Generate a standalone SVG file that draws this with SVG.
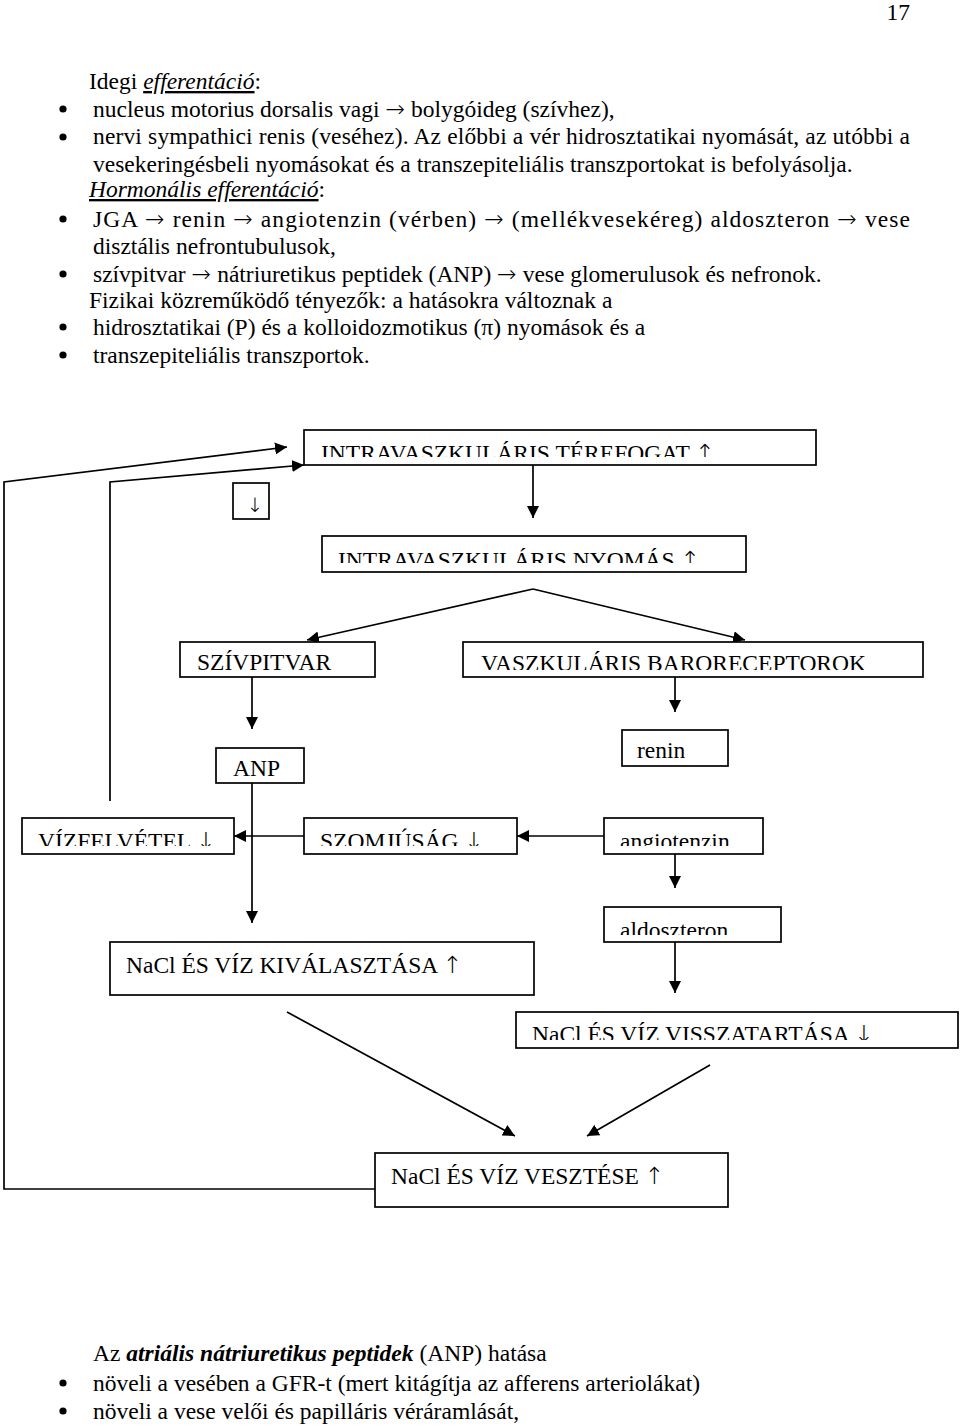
<svg xmlns="http://www.w3.org/2000/svg" width="960" height="1427" viewBox="0 0 960 1427">
<defs>
<style>
text { font-family: "Liberation Serif", "Times New Roman", serif; font-size: 23.5px; fill: #000; }
.ar { font-family: "DejaVu Sans", sans-serif; font-weight: 200; }
.box { fill: #fff; stroke: #000; stroke-width: 1.7; }
.ln { fill: none; stroke: #000; stroke-width: 1.7; }
.arr { marker-end: url(#ah); }
.it { font-style: italic; }
.u { text-decoration: underline; }
.bi { font-style: italic; font-weight: bold; }
.dot { fill: #000; }
</style>
<marker id="ah" markerUnits="userSpaceOnUse" markerWidth="13" markerHeight="12" refX="12" refY="6" orient="auto">
<path d="M0,0 L12,6 L0,12 z" fill="#000"/>
</marker>
<clipPath id="cT"><rect x="304" y="430" width="512" height="27"/></clipPath>
<clipPath id="cN"><rect x="322" y="536" width="424" height="27"/></clipPath>
<clipPath id="cSz"><rect x="180" y="642" width="195" height="28"/></clipPath>
<clipPath id="cB"><rect x="463" y="642" width="460" height="28"/></clipPath>
<clipPath id="cV"><rect x="22" y="818" width="212" height="28"/></clipPath>
<clipPath id="cSo"><rect x="304" y="818" width="213" height="28"/></clipPath>
<clipPath id="cAn"><rect x="604" y="818" width="159" height="28"/></clipPath>
<clipPath id="cAl"><rect x="604" y="907" width="177" height="28"/></clipPath>
<clipPath id="cVi"><rect x="516" y="1012" width="442" height="28"/></clipPath>
<clipPath id="cSm"><rect x="233" y="483" width="36" height="29"/></clipPath>
</defs>

<text x="910" y="20" text-anchor="end">17</text>

<g id="text-top">
<text x="89" y="89">Idegi <tspan class="it u">efferentáció</tspan>:</text>
<circle class="dot" cx="63" cy="109" r="3.6"/>
<text x="93" y="117">nucleus motorius dorsalis vagi <tspan class="ar">→</tspan> bolygóideg (szívhez),</text>
<circle class="dot" cx="63" cy="137" r="3.6"/>
<text x="93" y="144" textLength="817" lengthAdjust="spacing">nervi sympathici renis (veséhez). Az előbbi a vér hidrosztatikai nyomását, az utóbbi a</text>
<text x="93" y="172">vesekeringésbeli nyomásokat és a transzepiteliális transzportokat is befolyásolja.</text>
<text x="89" y="197"><tspan class="it u">Hormonális efferentáció</tspan>:</text>
<circle class="dot" cx="63" cy="219" r="3.6"/>
<text x="93" y="227" textLength="817" lengthAdjust="spacing">JGA <tspan class="ar">→</tspan> renin <tspan class="ar">→</tspan> angiotenzin (vérben) <tspan class="ar">→</tspan> (mellékvesekéreg) aldoszteron <tspan class="ar">→</tspan> vese</text>
<text x="93" y="254">disztális nefrontubulusok,</text>
<circle class="dot" cx="63" cy="274" r="3.6"/>
<text x="93" y="282">szívpitvar <tspan class="ar">→</tspan> nátriuretikus peptidek (ANP) <tspan class="ar">→</tspan> vese glomerulusok és nefronok.</text>
<text x="89" y="308">Fizikai közreműködő tényezők: a hatásokra változnak a</text>
<circle class="dot" cx="63" cy="327" r="3.6"/>
<text x="93" y="335">hidrosztatikai (P) és a kolloidozmotikus (π) nyomások és a</text>
<circle class="dot" cx="63" cy="355" r="3.6"/>
<text x="93" y="363">transzepiteliális transzportok.</text>
</g>

<g id="connectors">
<line class="ln arr" x1="533" y1="465" x2="533" y2="518"/>
<line class="ln arr" x1="533" y1="589" x2="307" y2="640"/>
<line class="ln arr" x1="533" y1="589" x2="745" y2="640"/>
<line class="ln arr" x1="252" y1="677" x2="252" y2="729"/>
<line class="ln arr" x1="675" y1="677" x2="675" y2="712"/>
<line class="ln arr" x1="252" y1="783" x2="252" y2="923"/>
<line class="ln arr" x1="304" y1="836" x2="234" y2="836"/>
<line class="ln arr" x1="604" y1="836" x2="517" y2="836"/>
<line class="ln arr" x1="675" y1="854" x2="675" y2="888"/>
<line class="ln arr" x1="675" y1="942" x2="675" y2="993"/>
<line class="ln arr" x1="287" y1="1012" x2="515" y2="1136"/>
<line class="ln arr" x1="710" y1="1065" x2="587" y2="1136"/>
<polyline class="ln arr" points="375,1189 4,1189 4,482 287,447"/>
<polyline class="ln arr" points="110,801 110,482 304,465"/>
</g>

<g id="n-terefogat">
<rect class="box" x="304" y="430" width="512" height="35"/>
<text x="321" y="461" clip-path="url(#cT)">INTRAVASZKULÁRIS TÉREFOGAT <tspan class="ar">↑</tspan></text>
</g>
<g id="n-down">
<rect class="box" x="233" y="483" width="36" height="36"/>
<text x="255" y="512" text-anchor="middle" class="ar" style="font-size:20px" clip-path="url(#cSm)">↓</text>
</g>
<g id="n-nyomas">
<rect class="box" x="322" y="536" width="424" height="36"/>
<text x="338" y="568" clip-path="url(#cN)">INTRAVASZKULÁRIS NYOMÁS <tspan class="ar">↑</tspan></text>
</g>
<g id="n-szivpitvar">
<rect class="box" x="180" y="642" width="195" height="35"/>
<text x="197" y="670" clip-path="url(#cSz)">SZÍVPITVAR</text>
</g>
<g id="n-baro">
<rect class="box" x="463" y="642" width="460" height="35"/>
<text x="481" y="671" clip-path="url(#cB)">VASZKULÁRIS BARORECEPTOROK</text>
</g>
<g id="n-anp">
<rect class="box" x="216" y="748" width="88" height="35"/>
<text x="233" y="776">ANP</text>
</g>
<g id="n-renin">
<rect class="box" x="622" y="730" width="106" height="36"/>
<text x="637" y="758">renin</text>
</g>
<g id="n-vizfelvetel">
<rect class="box" x="22" y="818" width="212" height="36"/>
<text x="38" y="849" clip-path="url(#cV)">VÍZFELVÉTEL <tspan class="ar">↓</tspan></text>
</g>
<g id="n-szomjusag">
<rect class="box" x="304" y="818" width="213" height="36"/>
<text x="320" y="849" clip-path="url(#cSo)">SZOMJÚSÁG <tspan class="ar">↓</tspan></text>
</g>
<g id="n-angiotenzin">
<rect class="box" x="604" y="818" width="159" height="36"/>
<text x="620" y="849" clip-path="url(#cAn)">angiotenzin</text>
</g>
<g id="n-aldoszteron">
<rect class="box" x="604" y="907" width="177" height="35"/>
<text x="620" y="938" clip-path="url(#cAl)">aldoszteron</text>
</g>
<g id="n-kivalasztasa">
<rect class="box" x="110" y="942" width="424" height="53"/>
<text x="126" y="973">NaCl ÉS VÍZ KIVÁLASZTÁSA <tspan class="ar">↑</tspan></text>
</g>
<g id="n-visszatartasa">
<rect class="box" x="516" y="1012" width="442" height="36"/>
<text x="532" y="1042" clip-path="url(#cVi)">NaCl ÉS VÍZ VISSZATARTÁSA <tspan class="ar">↓</tspan></text>
</g>
<g id="n-vesztese">
<rect class="box" x="375" y="1153" width="353" height="54"/>
<text x="391" y="1184">NaCl ÉS VÍZ VESZTÉSE <tspan class="ar">↑</tspan></text>
</g>

<g id="text-bottom">
<text x="93" y="1361">Az <tspan class="bi">atriális nátriuretikus peptidek</tspan> (ANP) hatása</text>
<circle class="dot" cx="63" cy="1383" r="3.6"/>
<text x="93" y="1391">növeli a vesében a GFR-t (mert kitágítja az afferens arteriolákat)</text>
<circle class="dot" cx="63" cy="1411" r="3.6"/>
<text x="93" y="1419">növeli a vese velői és papilláris véráramlását,</text>
</g>
</svg>
